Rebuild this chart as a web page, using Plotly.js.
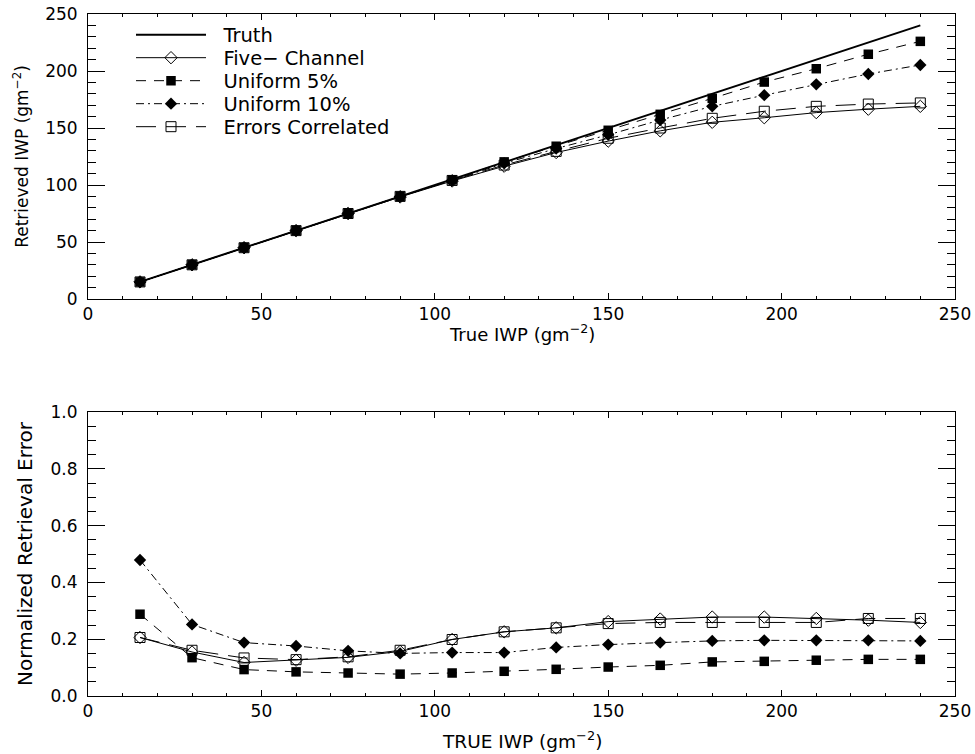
<!DOCTYPE html>
<html>
<head>
<meta charset="utf-8">
<script src="https://cdn.plot.ly/plotly-3.0.1.min.js"></script>
<style>html,body{margin:0;padding:0;background:#fff;}#chart{width:975px;height:754px;}</style>
</head>
<body>
<div id="chart"></div>
<script>
// True IWP (g m^-2)
const trueIWP = [15, 30, 45, 60, 75, 90, 105, 120, 135, 150, 165, 180, 195, 210, 225, 240];

// Top panel: retrieved IWP
const truthIWP       = [15, 30, 45, 60, 75, 90, 105, 120, 135, 150, 165, 180, 195, 210, 225, 240];
const fiveChannelIWP = [15, 30, 45, 60, 75, 89.5, 103.5, 116.5, 128.5, 138.5, 147.5, 155, 159, 163.5, 166.5, 169];
const uniform5IWP    = [15, 30, 45, 60, 75, 90, 104.5, 120.3, 134, 148, 162, 176, 190.3, 202, 214.7, 226];
const uniform10IWP   = [15, 30, 45, 60, 75, 90, 104, 119, 132, 144, 157, 169, 178.8, 188.3, 197.4, 205.3];
const correlatedIWP  = [15, 30, 45, 60, 75, 90, 104, 117.5, 129.5, 141, 150, 158.5, 164.7, 169, 171, 172];

// Bottom panel: normalized retrieval error
const fiveChannelErr = [0.206, 0.155, 0.118, 0.126, 0.136, 0.157, 0.199, 0.226, 0.240, 0.262, 0.271, 0.278, 0.278, 0.273, 0.267, 0.259];
const correlatedErr  = [0.206, 0.161, 0.134, 0.128, 0.138, 0.161, 0.199, 0.226, 0.240, 0.255, 0.259, 0.259, 0.259, 0.259, 0.273, 0.273];
const uniform10Err   = [0.479, 0.252, 0.188, 0.176, 0.159, 0.150, 0.153, 0.153, 0.171, 0.181, 0.188, 0.194, 0.196, 0.196, 0.196, 0.194];
const uniform5Err    = [0.288, 0.135, 0.093, 0.085, 0.081, 0.077, 0.081, 0.087, 0.094, 0.102, 0.108, 0.120, 0.122, 0.126, 0.129, 0.129];

const seriesNames = ['Truth', 'Five\u2212 Channel', 'Uniform 5%', 'Uniform 10%', 'Errors Correlated'];
const topXTitle = 'True IWP (gm<sup>\u22122</sup>)';
const bottomXTitle = 'TRUE IWP (gm<sup>\u22122</sup>)';
const topYTitle = 'Retrieved IWP (gm<sup>\u22122</sup>)';
const bottomYTitle = 'Normalized Retrieval Error';

const FONT = 'DejaVu Sans, Arial, sans-serif';
const PAD = '\u00a0\u00a0';

const styles = {
  five:  {line: {color: 'black', width: 1, dash: 'solid'},
          marker: {symbol: 'diamond-open', size: 9.5, color: 'black', line: {width: 1, color: 'black'}}},
  u5:    {line: {color: 'black', width: 1, dash: '10px,8px'},
          marker: {symbol: 'square', size: 9.5, color: 'black'}},
  u10:   {line: {color: 'black', width: 1, dash: '8px,4px,2px,4px'},
          marker: {symbol: 'diamond', size: 9.5, color: 'black'}},
  corr:  {line: {color: 'black', width: 1, dash: '20px,10px'},
          marker: {symbol: 'square-open', size: 10, color: 'black', line: {width: 1, color: 'black'}}}
};

function tr(x, y, name, st, xa, ya, leg) {
  const t = {x: x, y: y, name: PAD + name, type: 'scatter', mode: 'lines+markers',
          line: st.line, marker: st.marker, xaxis: xa, yaxis: ya, showlegend: !!leg};
  if (leg) t.legend = leg;
  return t;
}

const data = [
  {x: trueIWP, y: truthIWP, name: PAD + seriesNames[0], type: 'scatter', mode: 'lines',
   line: {color: 'black', width: 2}, xaxis: 'x', yaxis: 'y', showlegend: true, legend: 'legend'},
  tr(trueIWP, fiveChannelIWP, seriesNames[1], styles.five, 'x', 'y', 'legend2'),
  tr(trueIWP, uniform5IWP, seriesNames[2], styles.u5, 'x', 'y', 'legend3'),
  tr(trueIWP, uniform10IWP, seriesNames[3], styles.u10, 'x', 'y', 'legend4'),
  tr(trueIWP, correlatedIWP, seriesNames[4], styles.corr, 'x', 'y', 'legend5'),
  tr(trueIWP, fiveChannelErr, seriesNames[1], styles.five, 'x2', 'y2', null),
  tr(trueIWP, uniform5Err, seriesNames[2], styles.u5, 'x2', 'y2', null),
  tr(trueIWP, uniform10Err, seriesNames[3], styles.u10, 'x2', 'y2', null),
  tr(trueIWP, correlatedErr, seriesNames[4], styles.corr, 'x2', 'y2', null)
];

function xAxis(anchor) {
  return {
    range: [0, 250], dtick: 50, tick0: 0, anchor: anchor,
    ticks: 'inside', ticklen: 6, tickwidth: 1, tickcolor: 'black',
    minor: {dtick: 10, ticks: 'inside', ticklen: 3, tickcolor: 'black', tickwidth: 1, showgrid: false},
    showline: true, linecolor: 'black', linewidth: 1, mirror: 'allticks',
    showgrid: false, zeroline: false,
    tickfont: {family: FONT, size: 17, color: 'black'}
  };
}
function yAxis(title, titleSize, range, dtick, minorDtick, domain, anchor, fmt) {
  return {
    range: range, dtick: dtick, tick0: 0, domain: domain, anchor: anchor,
    ticks: 'inside', ticklen: 17, tickwidth: 1, tickcolor: 'black',
    minor: {dtick: minorDtick, ticks: 'inside', ticklen: 8, tickcolor: 'black', tickwidth: 1, showgrid: false},
    showline: true, linecolor: 'black', linewidth: 1, mirror: 'allticks',
    showgrid: false, zeroline: false, tickformat: fmt,
    ticklabelstandoff: 6,
    tickfont: {family: FONT, size: 17, color: 'black'},
    title: {text: title, font: {family: FONT, size: titleSize, color: 'black'}, standoff: 12}
  };
}

// one legend per entry so row spacing matches the reference
const rowsPx = [35, 58, 81, 104, 127];
function py(px) { return (696 - px) / 682; }
function leg(i) {
  return {
    x: 0.0496, y: py(rowsPx[i]), xanchor: 'left', yanchor: 'middle',
    bgcolor: 'rgba(0,0,0,0)', borderwidth: 0, itemwidth: 70,
    font: {family: FONT, size: 19.5, color: 'black'}
  };
}

const layout = {
  width: 975, height: 754,
  margin: {l: 88, r: 20, t: 14, b: 58},
  paper_bgcolor: 'white', plot_bgcolor: 'white',
  font: {family: FONT, color: 'black'},
  xaxis: xAxis('y'),
  yaxis: yAxis(topYTitle, 17, [0, 250], 50, 10, [0.5821, 1], 'x', 'd'),
  xaxis2: xAxis('y2'),
  yaxis2: yAxis(bottomYTitle, 20, [0, 1], 0.2, 0.05, [0, 0.4164], 'x2', '.1f'),
  legend: leg(0), legend2: leg(1), legend3: leg(2), legend4: leg(3), legend5: leg(4),
  showlegend: true,
  annotations: [
    {text: topXTitle, xref: 'paper', yref: 'paper', x: 0.5, y: py(333), xanchor: 'center', yanchor: 'middle',
     showarrow: false, font: {family: FONT, size: 18, color: 'black'}},
    {text: bottomXTitle, xref: 'paper', yref: 'paper', x: 0.5, y: py(740), xanchor: 'center', yanchor: 'middle',
     showarrow: false, font: {family: FONT, size: 18.5, color: 'black'}}
  ]
};

Plotly.newPlot('chart', data, layout, {staticPlot: true, displayModeBar: false});
</script>
</body>
</html>
